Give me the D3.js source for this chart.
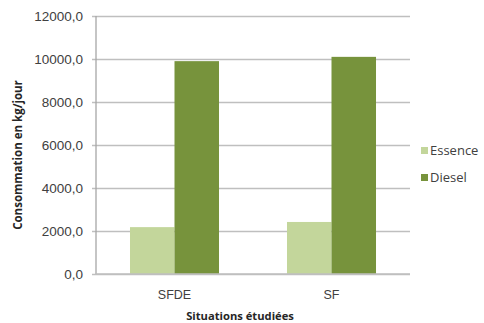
<!DOCTYPE html>
<html>
<head>
<meta charset="utf-8">
<script src="https://cdn.jsdelivr.net/npm/d3@7/dist/d3.min.js"></script>
<style>
  html, body { margin: 0; padding: 0; background: #fff; }
  svg { display: block; font-family: "Open Sans", "Noto Sans", sans-serif; }
</style>
</head>
<body>
<svg id="chart" width="484" height="323"></svg>
<script>
// Daily fuel consumption per studied situation
const categories = ["SFDE", "SF"];
const seriesNames = ["Essence", "Diesel"];
const essence = [2180, 2420];
const diesel = [9900, 10100];
const yTicks = [0, 2000, 4000, 6000, 8000, 10000, 12000];
const colors = { Essence: "#c3d69b", Diesel: "#77933c" };

const svg = d3.select("#chart");
const plot = { left: 96, right: 410, top: 16, bottom: 274 };

const x0 = d3.scaleBand()
  .domain(categories)
  .range([plot.left, plot.right])
  .paddingInner(0.433)
  .paddingOuter(0.2165);

const x1 = d3.scaleBand()
  .domain(seriesNames)
  .range([0, x0.bandwidth()]);

const y = d3.scaleLinear()
  .domain([0, 12000])
  .range([plot.bottom, plot.top]);

const fmt = v => d3.format(".1f")(v).replace(".", ",");

// gridlines + y ticks
const yAxis = d3.axisLeft(y)
  .tickValues(yTicks)
  .tickSize(-(plot.right - plot.left) - 4)
  .tickPadding(9)
  .tickFormat(fmt);

const gy = svg.append("g")
  .attr("transform", `translate(${plot.left - 4},0)`)
  .call(yAxis);
gy.select(".domain").remove();
gy.selectAll(".tick line")
  .attr("x1", 0)
  .attr("x2", plot.right - plot.left + 4)
  .attr("stroke", "#bfbfbf")
  .attr("stroke-width", 1.3);
gy.selectAll(".tick text")
  .attr("fill", "#404040")
  .attr("font-size", 13.5)
  .attr("dy", "0.36em");

// vertical axis line
svg.append("line")
  .attr("x1", plot.left).attr("x2", plot.left)
  .attr("y1", plot.top).attr("y2", plot.bottom)
  .attr("stroke", "#a6a6a6")
  .attr("stroke-width", 1.3);

// bars
const rows = categories.map((c, i) => ({ cat: c, Essence: essence[i], Diesel: diesel[i] }));
const groups = svg.append("g").selectAll("g")
  .data(rows)
  .join("g")
  .attr("transform", d => `translate(${x0(d.cat)},0)`);

groups.selectAll("rect")
  .data(d => seriesNames.map(s => ({ s, v: d[s] })))
  .join("rect")
  .attr("x", d => x1(d.s))
  .attr("width", x1.bandwidth())
  .attr("y", d => y(d.v))
  .attr("height", d => y(0) - y(d.v))
  .attr("fill", d => colors[d.s]);

// baseline over the bars
svg.append("line")
  .attr("x1", plot.left).attr("x2", plot.right)
  .attr("y1", plot.bottom).attr("y2", plot.bottom)
  .attr("stroke", "#bfbfbf")
  .attr("stroke-width", 1.3);

// category labels
const xAxis = d3.axisBottom(x0).tickSize(0).tickPadding(16);
const gx = svg.append("g")
  .attr("transform", `translate(0,${plot.bottom})`)
  .call(xAxis);
gx.select(".domain").remove();
gx.selectAll(".tick text")
  .attr("fill", "#404040")
  .attr("font-size", 12.5);

// axis titles
svg.append("text")
  .attr("x", 240)
  .attr("y", 320)
  .attr("text-anchor", "middle")
  .attr("font-size", 11.2)
  .attr("font-weight", "bold")
  .attr("fill", "#262626")
  .text("Situations étudiées");

svg.append("text")
  .attr("transform", "translate(22,155) rotate(-90)")
  .attr("text-anchor", "middle")
  .attr("font-size", 11.5)
  .attr("font-weight", "bold")
  .attr("fill", "#262626")
  .text("Consommation en kg/jour");

// legend
const legend = svg.append("g").selectAll("g")
  .data(seriesNames)
  .join("g")
  .attr("transform", (d, i) => `translate(421,${147 + i * 27})`);
legend.append("rect")
  .attr("width", 7).attr("height", 7)
  .attr("fill", d => colors[d]);
legend.append("text")
  .attr("x", 9).attr("y", 7.5)
  .attr("font-size", 13)
  .attr("fill", "#404040")
  .text(d => d);
</script>
</body>
</html>
